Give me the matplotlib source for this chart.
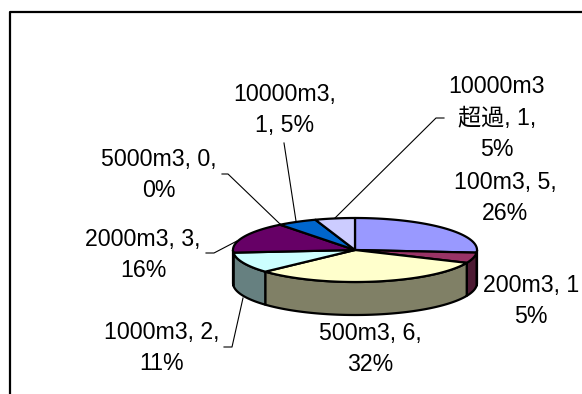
import numpy as np
import matplotlib
matplotlib.use("Agg")
import matplotlib.pyplot as plt

plt.rcParams['font.family'] = ['Liberation Sans', 'Noto Sans CJK JP']

names = ['100m3', '200m3', '500m3', '1000m3', '2000m3', '5000m3', '10000m3', '10000m3\n超過']
counts = [5, 1, 6, 2, 3, 0, 1, 1]
percents = [26, 5, 32, 11, 16, 0, 5, 5]
top_colors = ['#9999FF', '#993366', '#FFFFCC', '#CCFFFF', '#660066', '#FF8080', '#0066CC', '#CCCCFF']
side_colors = ['#4D4D80', '#4D1A33', '#808066', '#668080', '#330033', '#804040', '#003366', '#666680']
label_text = ['100m3, 5,\n26%', '200m3, 1\n5%', '500m3, 6,\n32%', '1000m3, 2,\n11%',
              '2000m3, 3,\n16%', '5000m3, 0,\n0%', '10000m3,\n1, 5%', '10000m3\n超過, 1,\n5%']
label_pos = [(505, 198), (531, 301), (370, 349), (162, 348),
             (143, 255), (159, 175), (285, 110), (497, 118)]
leaders = [
    [(224, 347), (232, 347), (243, 298)],
    [(206, 253), (214, 253), (237, 241)],
    [(222, 174), (228, 174), (280, 224)],
    [(284, 143), (296, 221)],
    [(444, 118), (436, 118), (335, 218)],
]

cx, cy = 355, 250
rx, ry = 122, 32
depth = 33


def arc(t0, t1):
    t = np.radians(np.linspace(t0, t1, max(int(abs(t1 - t0)) * 2, 2)))
    return cx + rx * np.sin(t), cy + ry * np.cos(t) * -1


fig = plt.figure(figsize=(5.82, 3.94), dpi=100)
ax = fig.add_axes([0, 0, 1, 1])
ax.set_xlim(0, 582)
ax.set_ylim(394, 0)
ax.axis('off')

# chart area border, only the top and left show
ax.plot([10, 10, 582], [394, 12, 12], color='k', lw=1.6, solid_capstyle='butt')

edges = np.concatenate([[0], np.cumsum(counts)]) / sum(counts) * 360

# outer wall for the front half of the pie
for i in range(len(counts)):
    a, b = max(edges[i], 90), min(edges[i + 1], 270)
    if b <= a:
        continue
    x, y = arc(a, b)
    ax.fill(np.r_[x, x[::-1]], np.r_[y, y[::-1] + depth], facecolor=side_colors[i],
            edgecolor='k', lw=1.6, joinstyle='round')

# top face
for i in range(len(counts)):
    if counts[i] == 0:
        continue
    x, y = arc(edges[i], edges[i + 1])
    ax.fill(np.r_[cx, x], np.r_[cy, y], facecolor=top_colors[i],
            edgecolor='k', lw=1.6, joinstyle='round')

for pts in leaders:
    xs, ys = zip(*pts)
    ax.plot(xs, ys, color='k', lw=0.8)

for txt, (x, y) in zip(label_text, label_pos):
    ax.text(x, y, txt, ha='center', va='center', fontsize=16.7, linespacing=1.47, color='k')

fig.savefig('out.png', dpi=100)
